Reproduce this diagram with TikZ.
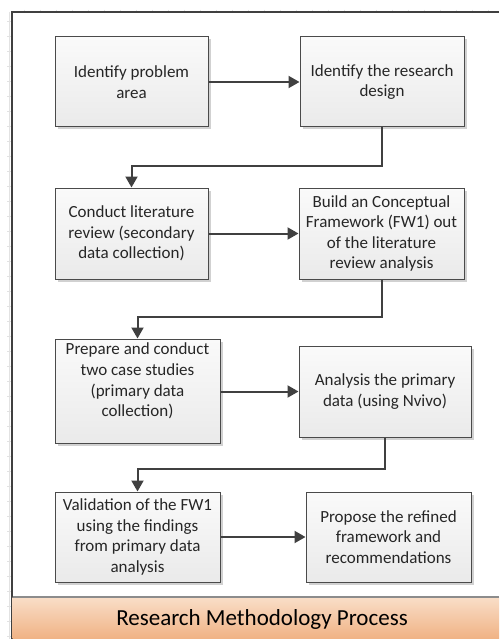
\documentclass[tikz,border=0pt]{standalone}
\usepackage{fontspec}
\setmainfont{Carlito}
\usetikzlibrary{arrows.meta,shadows}
\definecolor{edgegray}{HTML}{4A4A4A}
\definecolor{linegray}{HTML}{404040}
\definecolor{textgray}{HTML}{262626}
\definecolor{boxtop}{HTML}{FAFAFA}
\definecolor{boxbot}{HTML}{EAEAEA}
\definecolor{bandtop}{HTML}{F9DEC8}
\definecolor{bandbot}{HTML}{F0B284}
\definecolor{rulegray}{HTML}{E2E2E2}
\tikzset{
  stepbox/.style={draw=edgegray, line width=1pt, top color=boxtop, bottom color=boxbot,
    drop shadow={shadow xshift=2.5pt, shadow yshift=-2.5pt, fill=black, opacity=0.18},
    inner sep=0pt},
  steptext/.style={align=center, text=textgray, font=\fontsize{17}{20.6}\selectfont, inner sep=0pt},
  flow/.style={draw=linegray, line width=2pt, -{Triangle[length=11pt,width=12pt]}},
}
\begin{document}
\begin{tikzpicture}[x=1pt,y=-1pt]
\useasboundingbox (0,0) rectangle (499,639);
\fill[white] (0,0) rectangle (499,639);

% faint ruler marks along the page edges
\draw[rulegray, line width=0.8pt] (9,12) -- (9,639);
\foreach \t in {21,36,...,636} \draw[rulegray, line width=0.8pt] (7,\t) -- (12,\t);
\foreach \t in {24,40,...,496} \draw[rulegray, line width=0.8pt] (\t,10) -- (\t,12);

% page frame
\draw[linegray, line width=1.2pt] (499,12) -- (12,12) -- (12,639);

% title band
\shade[top color=bandtop, bottom color=bandbot] (12.6,597) rectangle (499,639);
\draw[color={rgb,255:red,140;green,140;blue,140}, line width=2pt] (12.6,597) -- (499,597);
\node[text=black, font=\fontsize{23}{27}\selectfont, inner sep=0pt] (title) at (262,619) {Research Methodology Process};

% process steps
\node[stepbox, minimum width=153pt, minimum height=90pt] (b1) at (131.5,82) {};
\node[steptext] (t1) at (b1.center) {Identify problem\\area};
\node[stepbox, minimum width=164pt, minimum height=90pt] (b2) at (382,82) {};
\node[steptext] (t2) at (b2.center) {Identify the research\\design};

\node[stepbox, minimum width=153pt, minimum height=91pt] (b3) at (131.5,233.5) {};
\node[steptext] (t3) at (b3.center) {Conduct literature\\review (secondary\\data collection)};
\node[stepbox, minimum width=165pt, minimum height=91pt] (b4) at (381.5,233.5) {};
\node[steptext] (t4) at (b4.center) {Build an Conceptual\\Framework (FW1) out\\of the literature\\review analysis};

\node[stepbox, minimum width=165pt, minimum height=104pt] (b5) at (137.5,391) {};
\node[steptext] (t5) at (137.5,381) {Prepare and conduct\\two case studies\\(primary data\\collection)};
\node[stepbox, minimum width=172pt, minimum height=91pt] (b6) at (385,391.5) {};
\node[steptext] (t6) at (b6.center) {Analysis the primary\\data (using Nvivo)};

\node[stepbox, minimum width=165pt, minimum height=90pt] (b7) at (137.5,537) {};
\node[steptext] (t7) at (b7.center) {Validation of the FW1\\using the findings\\from primary data\\analysis};
\node[stepbox, minimum width=165pt, minimum height=90pt] (b8) at (388.5,537) {};
\node[steptext] (t8) at (b8.center) {Propose the refined\\framework and\\recommendations};

% connectors
\coordinate (k1) at (0,166);
\coordinate (k2) at (0,317);
\coordinate (k3) at (0,469);
\draw[flow] (b1.east) -- (b2.west);
\draw[flow] (b2.south) -- (b2.south |- k1) -| (b3.north);
\draw[flow] (b3.east) -- (b4.west);
\draw[flow] (b4.south) -- (b4.south |- k2) -| (b5.north);
\draw[flow] (b5.east |- b6.west) -- (b6.west);
\draw[flow] (b6.south) -- (b6.south |- k3) -| (b7.north);
\draw[flow] (b7.east) -- (b8.west);
\end{tikzpicture}
\end{document}
